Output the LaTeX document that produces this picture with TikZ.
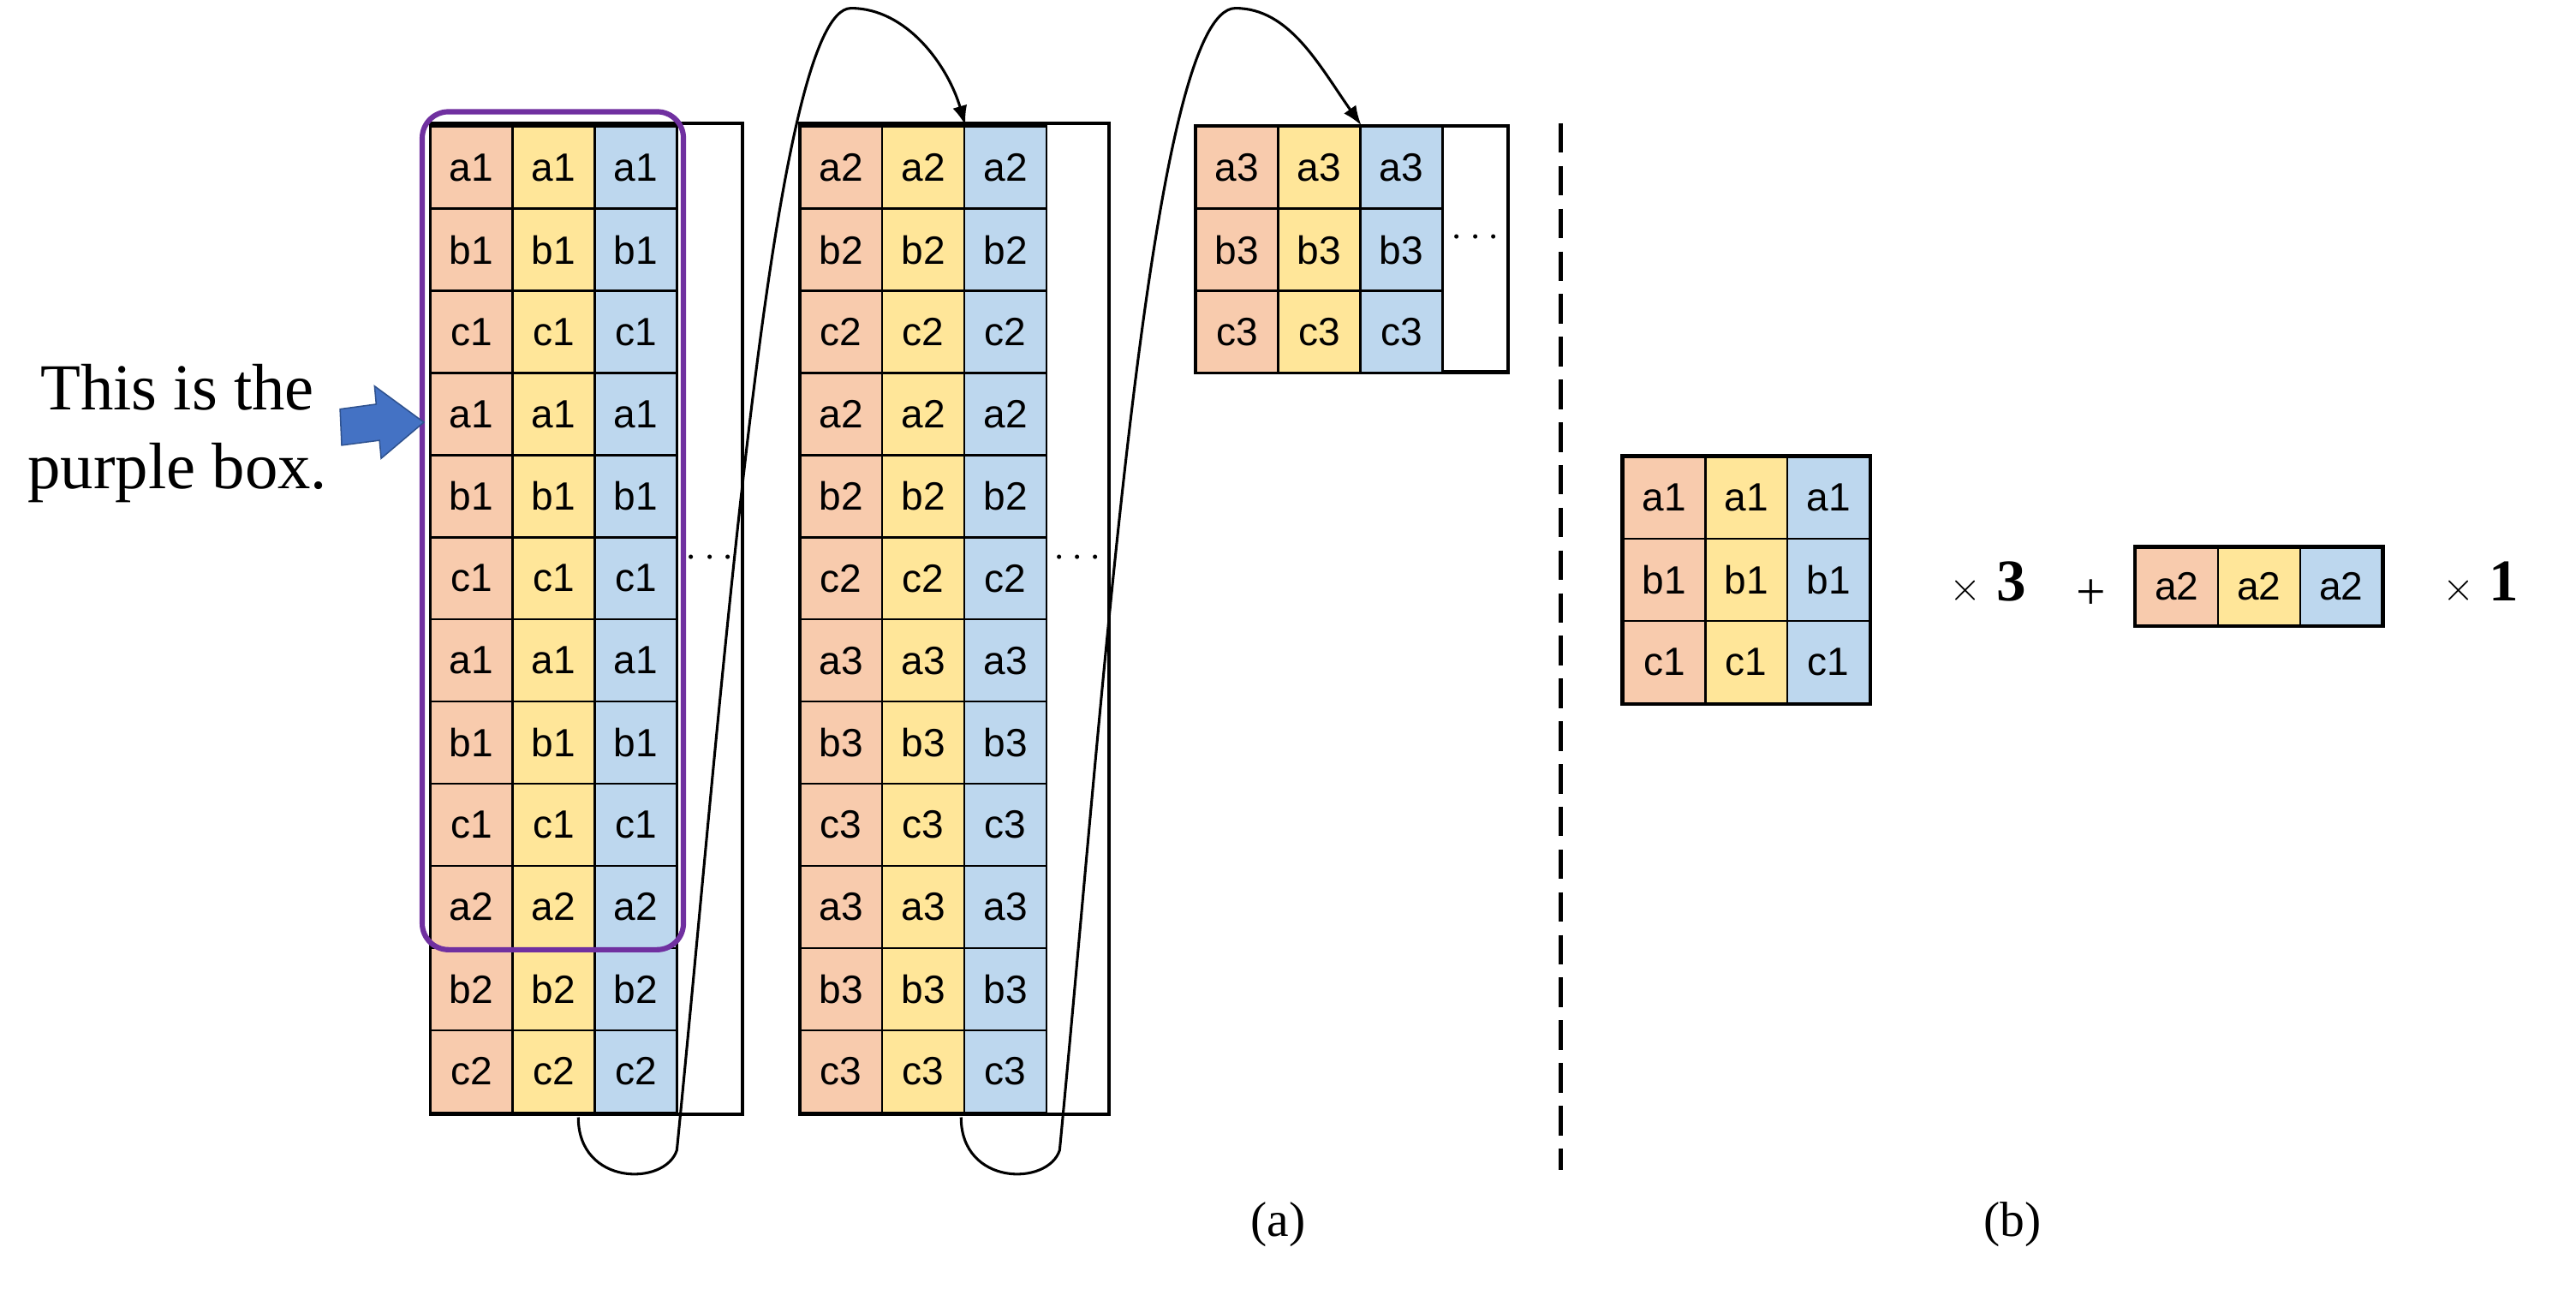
\documentclass[tikz,border=0pt]{standalone}
\usepackage{fontspec}
\setmainfont{Liberation Serif}
\newfontfamily\cellfont{Liberation Sans}
\begin{document}
\begin{tikzpicture}[x=1pt,y=-1pt,
  cell/.style={draw=black,line width=1.3pt,minimum width=50pt,minimum height=50pt,inner sep=0pt,font=\cellfont\fontsize{24}{28}\selectfont},
  co/.style={cell,fill=orangec},
  cy/.style={cell,fill=yellowc},
  cb/.style={cell,fill=bluec},
  outer/.style={draw=black,line width=2.2pt,inner sep=0pt},
  conn/.style={line width=1.6pt,-{Latex[length=12pt,width=9pt]}},
  lab/.style={font=\fontsize{30}{36}\selectfont}]
\usetikzlibrary{arrows.meta}
\definecolor{orangec}{HTML}{F8CBAD}
\definecolor{yellowc}{HTML}{FFE699}
\definecolor{bluec}{HTML}{BDD7EE}
\definecolor{purplec}{HTML}{7030A0}
\definecolor{arrowb}{HTML}{4472C4}
\definecolor{arrowe}{HTML}{2F528F}
\useasboundingbox (0,0) rectangle (1568,784);
% group outer boxes
\node[outer,minimum width=190pt,minimum height=603pt] (g1) at (357,376.5) {};
\node[outer,minimum width=188pt,minimum height=603pt] (g2) at (581,376.5) {};
\node[outer,minimum width=190pt,minimum height=150pt] (g3) at (823,151.5) {};
% group 1
\foreach \t [count=\i from 0] in {a1,b1,c1,a1,b1,c1,a1,b1,c1,a2,b2,c2}{
  \node[co] (p\i a) at (287,102+50*\i) {\t};
  \node[cy] (p\i b) at (337,102+50*\i) {\t};
  \node[cb] (p\i c) at (387,102+50*\i) {\t};
}
% group 2
\foreach \t [count=\i from 0] in {a2,b2,c2,a2,b2,c2,a3,b3,c3,a3,b3,c3}{
  \node[co] (q\i a) at (512,102+50*\i) {\t};
  \node[cy] (q\i b) at (562,102+50*\i) {\t};
  \node[cb] (q\i c) at (612,102+50*\i) {\t};
}
% group 3
\foreach \t [count=\i from 0] in {a3,b3,c3}{
  \node[co] (r\i a) at (753,102+50*\i) {\t};
  \node[cy] (r\i b) at (803,102+50*\i) {\t};
  \node[cb] (r\i c) at (853,102+50*\i) {\t};
}
\node[font=\fontsize{24}{28}\selectfont] (d1) at (432,340) {$\cdots$};
\node[font=\fontsize{24}{28}\selectfont] (d2) at (656,340) {$\cdots$};
\node[font=\fontsize{24}{28}\selectfont] (d3) at (898,145) {$\cdots$};
% purple box
\node[draw=purplec,line width=3.2pt,rounded corners=16pt,minimum width=159pt,minimum height=510pt] (pb) at (336.5,323) {};
% blue arrow
\draw[fill=arrowb,draw=arrowe,line width=0.8pt] (207,249) -- (229,246) -- (228,235) -- (258,257) -- (232,279) -- (231,268) -- (208,271) -- cycle;
\node[font=\fontsize{40}{48}\selectfont,align=center] (txt) at (108,264) {This is the\\purple box.};
% connectors
\coordinate (s1) at (352,680);
\coordinate (s2) at (585,680);
\draw[conn] (s1) .. controls (352,722) and (405,722) .. (412,700) .. controls (440,420) and (470,5) .. (518,5) .. controls (552,5) and (577,40) .. (q0b.north east);
\draw[conn] (s2) .. controls (585,722) and (638,722) .. (645,700) .. controls (672,420) and (700,5) .. (752,5) .. controls (785,5) and (803,40) .. (r0b.north east);
% dashed separator
\coordinate (v1) at (950,75);
\coordinate (v2) at (950,712);
\draw[line width=3pt,dash pattern=on 18pt off 8pt] (v1) -- (v2);
% (b)
\foreach \t [count=\i from 0] in {a1,b1,c1}{
  \node[co] (s\i a) at (1013,303+50*\i) {\t};
  \node[cy] (s\i b) at (1063,303+50*\i) {\t};
  \node[cb] (s\i c) at (1113,303+50*\i) {\t};
}
\node[co,minimum height=47pt] (t0a) at (1325,357) {a2};
\node[cy,minimum height=47pt] (t0b) at (1375,357) {a2};
\node[cb,minimum height=47pt] (t0c) at (1425,357) {a2};
\draw[line width=2.2pt] (s0a.north west) rectangle (s2c.south east);
\draw[line width=2.2pt] (t0a.north west) rectangle (t0c.south east);
\node[font=\bfseries\fontsize{36}{40}\selectfont] (m3) at (1210,355) {$\times$ 3};
\node[font=\fontsize{32}{36}\selectfont] (pl) at (1273,362) {+};
\node[font=\bfseries\fontsize{36}{40}\selectfont] (m1) at (1510,355) {$\times$ 1};
\node[lab] (la) at (778,745) {(a)};
\node[lab] (lb) at (1225,745) {(b)};
\end{tikzpicture}
\end{document}
